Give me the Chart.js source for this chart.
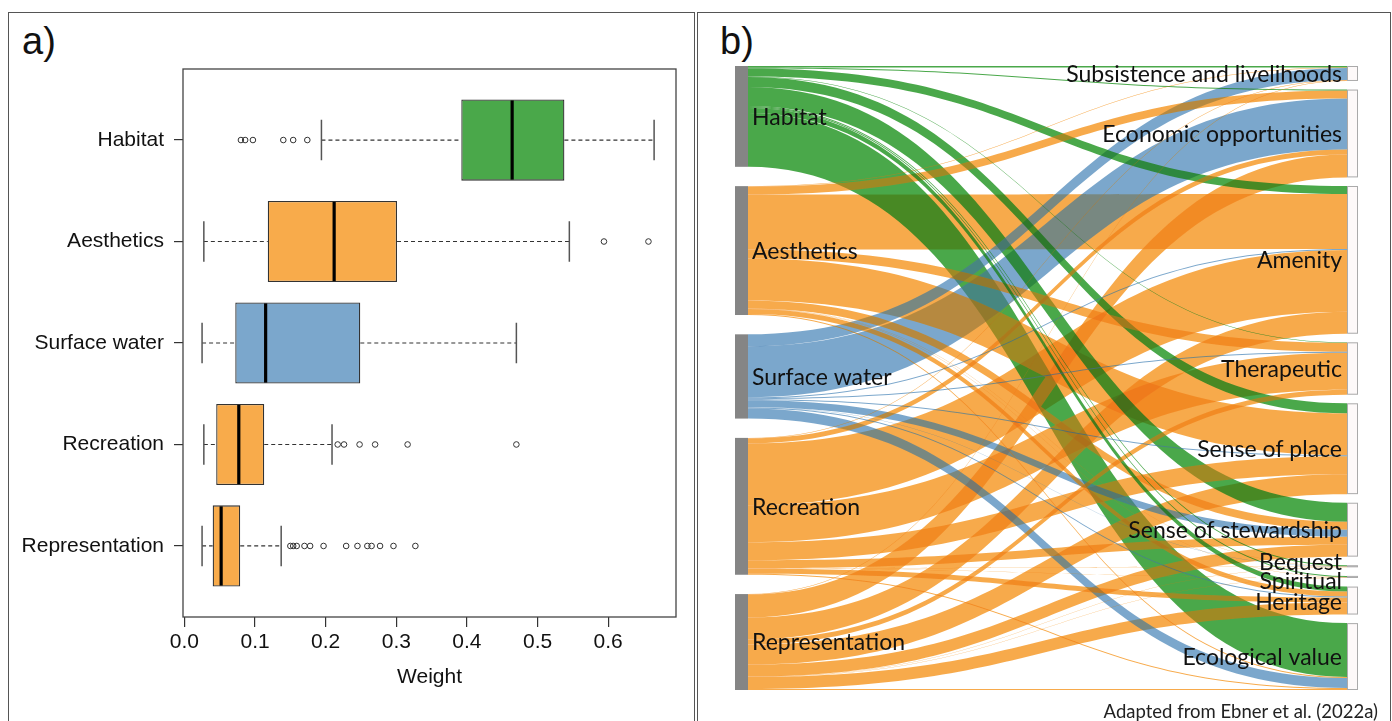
<!DOCTYPE html>
<html>
<head>
<meta charset="utf-8">
<script src="https://cdn.jsdelivr.net/npm/chart.js@4.4.1/dist/chart.umd.min.js"></script>
<style>
  body { margin: 0; background: #fff; width: 1392px; height: 721px; overflow: hidden; position: relative; }
  .panel { position: absolute; border: 1.5px solid #555; border-bottom: none; box-sizing: border-box; }
  #panelA { left: 8px; top: 12px; width: 687px; height: 712px; }
  #panelB { left: 697px; top: 12px; width: 694px; height: 712px; }
  .tag { position: absolute; font-family: "Liberation Sans", Arial, sans-serif; font-size: 38px; color: #111; line-height: 1; }
  #boxCanvas { position: absolute; left: 0; top: 0; }
  #sankeyCanvas { position: absolute; left: 698px; top: 13px; }
  #note { position: absolute; right: 14px; top: 700px; font-family: Lato, "Open Sans", sans-serif; font-size: 18.5px; color: #222; }
</style>
</head>
<body>
<div class="panel" id="panelA"></div>
<div class="panel" id="panelB"></div>
<div class="tag" style="left:22px; top:22px;">a)</div>
<div class="tag" style="left:720px; top:22px;">b)</div>
<canvas id="boxCanvas" width="694" height="721"></canvas>
<canvas id="sankeyCanvas" width="692" height="708"></canvas>
<div id="note">Adapted from Ebner et al. (2022a)</div>

<script>
// ---------- panel a: box plot of weights ----------
const boxCats = ['Habitat', 'Aesthetics', 'Surface water', 'Recreation', 'Representation'];
const boxColors = ['#4aa84a', '#f8ab4b', '#7ba7cc', '#f8ab4b', '#f8ab4b'];
const whiskerLow = [0.194, 0.0275, 0.025, 0.0275, 0.025];
const q1 = [0.392, 0.118, 0.072, 0.045, 0.040];
const median = [0.464, 0.212, 0.115, 0.077, 0.052];
const q3 = [0.538, 0.301, 0.249, 0.113, 0.079];
const whiskerHigh = [0.665, 0.545, 0.470, 0.209, 0.137];
const outliers = [
  [0.080, 0.086, 0.097, 0.140, 0.154, 0.174],
  [0.594, 0.657],
  [],
  [0.217, 0.226, 0.248, 0.270, 0.316, 0.470],
  [0.150, 0.154, 0.159, 0.170, 0.178, 0.197, 0.229, 0.245, 0.259, 0.265, 0.277, 0.296, 0.327]
];
const weightTicks = [0, 0.1, 0.2, 0.3, 0.4, 0.5, 0.6];

const axisFont = { family: '"Liberation Sans", Arial, sans-serif', size: 21 };

const boxExtras = {
  id: 'boxExtras',
  beforeDatasetsDraw(chart) {
    const { ctx, scales: { x, y } } = chart;
    const unit = Math.abs(y.getPixelForValue(2) - y.getPixelForValue(1));
    ctx.save();
    boxCats.forEach((c, i) => {
      const yc = y.getPixelForValue(i + 1);
      // dashed whiskers
      ctx.strokeStyle = '#333';
      ctx.lineWidth = 1.2;
      ctx.setLineDash([4, 3]);
      ctx.beginPath();
      ctx.moveTo(x.getPixelForValue(whiskerLow[i]), yc);
      ctx.lineTo(x.getPixelForValue(q1[i]), yc);
      ctx.moveTo(x.getPixelForValue(q3[i]), yc);
      ctx.lineTo(x.getPixelForValue(whiskerHigh[i]), yc);
      ctx.stroke();
      // staples
      ctx.setLineDash([]);
      ctx.strokeStyle = '#555';
      ctx.lineWidth = 1.5;
      ctx.beginPath();
      [whiskerLow[i], whiskerHigh[i]].forEach(v => {
        const px = x.getPixelForValue(v);
        ctx.moveTo(px, yc - unit * 0.2);
        ctx.lineTo(px, yc + unit * 0.2);
      });
      ctx.stroke();
    });
    ctx.restore();
  },
  afterDatasetsDraw(chart) {
    const { ctx, scales: { x, y }, chartArea } = chart;
    const unit = Math.abs(y.getPixelForValue(2) - y.getPixelForValue(1));
    ctx.save();
    ctx.strokeStyle = '#000';
    ctx.lineWidth = 3.2;
    boxCats.forEach((c, i) => {
      const yc = y.getPixelForValue(i + 1);
      const px = x.getPixelForValue(median[i]);
      ctx.beginPath();
      ctx.moveTo(px, yc - unit * 0.4 + 1);
      ctx.lineTo(px, yc + unit * 0.4 - 1);
      ctx.stroke();
    });
    ctx.strokeStyle = '#444';
    ctx.lineWidth = 1.3;
    ctx.strokeRect(chartArea.left, chartArea.top, chartArea.right - chartArea.left, chartArea.bottom - chartArea.top);
    ctx.restore();
  }
};

new Chart(document.getElementById('boxCanvas'), {
  type: 'bar',
  data: {
    datasets: [
      {
        type: 'bar',
        indexAxis: 'y',
        data: boxCats.map((c, i) => ({ x: [q1[i], q3[i]], y: i + 1 })),
        backgroundColor: boxColors,
        borderColor: '#333',
        borderWidth: 1.3,
        borderSkipped: false,
        categoryPercentage: 1,
        barPercentage: 0.8
      },
      {
        type: 'scatter',
        data: outliers.flatMap((arr, i) => arr.map(v => ({ x: v, y: i + 1 }))),
        pointStyle: 'circle',
        pointRadius: 2.8,
        pointBorderWidth: 1,
        pointBorderColor: '#333',
        pointBackgroundColor: 'rgba(0,0,0,0)',
        showLine: false
      }
    ]
  },
  options: {
    responsive: false,
    animation: false,
    layout: { padding: { left: 9, right: 18, top: 69, bottom: 0 } },
    plugins: { legend: { display: false }, tooltip: { enabled: false } },
    scales: {
      x: {
        type: 'linear',
        offset: false,
        min: -0.002,
        max: 0.696,
        afterBuildTicks: s => { s.ticks = weightTicks.map(v => ({ value: v })); },
        afterFit: s => { s.height = 104; },
        grid: { offset: false, drawOnChartArea: false, tickLength: 10, color: '#333', lineWidth: 1.2 },
        border: { display: false },
        ticks: { font: axisFont, color: '#111', padding: 3, callback: v => v.toFixed(1) },
        title: { display: true, text: 'Weight', font: axisFont, color: '#111', padding: { top: 0, bottom: 31 } }
      },
      y: {
        type: 'linear',
        offset: false,
        reverse: true,
        min: 0.3,
        max: 5.7,
        afterBuildTicks: s => { s.ticks = boxCats.map((c, i) => ({ value: i + 1 })); },
        afterFit: s => { s.width = 174; },
        grid: { offset: false, drawOnChartArea: false, tickLength: 9, color: '#333', lineWidth: 1.2 },
        border: { display: false },
        ticks: { font: axisFont, color: '#111', padding: 10, callback: v => boxCats[v - 1] }
      }
    }
  },
  plugins: [boxExtras]
});

// ---------- panel b: sankey of attributes to values ----------
const sources = ['Habitat', 'Aesthetics', 'Surface water', 'Recreation', 'Representation'];
const sourceRGB = [[42, 153, 42], [246, 155, 43], [100, 152, 195], [246, 155, 43], [246, 155, 43]];
const targets = ['Subsistence and livelihoods', 'Economic opportunities', 'Amenity', 'Therapeutic', 'Sense of place',
  'Sense of stewardship', 'Bequest', 'Spiritual', 'Heritage', 'Ecological value'];
// one row per source, one column per target
const flowHabitat        = [1.5, 1, 8, 0.5, 10, 19, 1, 1, 5, 54];
const flowAesthetics     = [0.5, 8, 55, 9, 42, 8, 0.3, 0.3, 5, 1];
const flowSurfaceWater   = [12, 51, 1, 1, 1, 7, 0.2, 0.2, 1, 10];
const flowRecreation     = [0.5, 5, 62, 37, 18, 8, 0.3, 0.3, 5, 1];
const flowRepresentation = [0.5, 23, 22, 5, 20, 12, 0.3, 0.3, 12, 1];
const flows = [flowHabitat, flowAesthetics, flowSurfaceWater, flowRecreation, flowRepresentation];

const NODE_PAD = 8.6;
const LINK_ALPHA = 0.85;
const LABEL_MIN_SEP = 21;
const sum = a => a.reduce((s, v) => s + v, 0);
const srcTotals = flows.map(sum);
const tgtTotals = targets.map((t, j) => sum(flows.map(r => r[j])));
const colHeight = Math.max(sum(srcTotals) + (sources.length - 1) * NODE_PAD,
                           sum(tgtTotals) + (targets.length - 1) * NODE_PAD);

function stackColumn(totals) {
  const gap = (colHeight - sum(totals)) / (totals.length - 1);
  let acc = 0;
  return totals.map(v => { const top = acc; acc += v + gap; return top; });
}
const srcTop = stackColumn(srcTotals);
const tgtTop = stackColumn(tgtTotals);

// link list with start offsets, drawn largest first
const links = [];
flows.forEach((row, i) => row.forEach((v, j) => {
  if (v > 0) links.push({ i, j, v,
    s0: srcTop[i] + sum(row.slice(0, j)),
    t0: tgtTop[j] + sum(flows.slice(0, i).map(r => r[j])) });
}));
links.sort((a, b) => b.v - a.v);

const labelFont = '23px Lato, "Open Sans", sans-serif';

const sankeyDraw = {
  id: 'sankeyDraw',
  afterDatasetsDraw(chart) {
    const { ctx, scales: { x, y }, chartArea } = chart;
    const leftW = 13, rightW = 11;
    const xl = x.getPixelForValue(0) + leftW;
    const xr = x.getPixelForValue(1) - rightW;
    const xm = (xl + xr) / 2;

    const tracePath = (c, l) => {
      const ys0 = y.getPixelForValue(l.s0), ys1 = y.getPixelForValue(l.s0 + l.v);
      const yt0 = y.getPixelForValue(l.t0), yt1 = y.getPixelForValue(l.t0 + l.v);
      c.beginPath();
      c.moveTo(xl, ys0);
      c.bezierCurveTo(xm, ys0, xm, yt0, xr, yt0);
      c.lineTo(xr, yt1);
      c.bezierCurveTo(xm, yt1, xm, ys1, xl, ys1);
      c.closePath();
    };

    // two passes: normal alpha blending and multiply, then mixed
    const w = chart.width, h = chart.height;
    const normal = document.createElement('canvas');
    normal.width = w; normal.height = h;
    const cn = normal.getContext('2d');
    const mult = document.createElement('canvas');
    mult.width = w; mult.height = h;
    const cm = mult.getContext('2d');
    cm.fillStyle = '#fff';
    cm.fillRect(0, 0, w, h);
    cm.globalCompositeOperation = 'multiply';
    links.forEach(l => {
      const [r, g, b] = sourceRGB[l.i];
      cn.fillStyle = `rgba(${r},${g},${b},${LINK_ALPHA})`;
      tracePath(cn, l);
      cn.fill();
      const vis = c => Math.round(LINK_ALPHA * c + (1 - LINK_ALPHA) * 255);
      cm.fillStyle = `rgb(${vis(r)},${vis(g)},${vis(b)})`;
      tracePath(cm, l);
      cm.fill();
    });
    ctx.save();
    ctx.drawImage(normal, 0, 0);
    ctx.beginPath();
    ctx.rect(chartArea.left, chartArea.top, chartArea.right - chartArea.left, chartArea.bottom - chartArea.top);
    ctx.clip();
    ctx.globalAlpha = 0.4;
    ctx.drawImage(mult, 0, 0);
    ctx.restore();

    ctx.save();
    // nodes
    ctx.fillStyle = '#858585';
    sources.forEach((s, i) => {
      const y0 = y.getPixelForValue(srcTop[i]), y1 = y.getPixelForValue(srcTop[i] + srcTotals[i]);
      ctx.fillRect(xl - leftW, y0, leftW, y1 - y0);
    });
    ctx.strokeStyle = '#aaa';
    ctx.lineWidth = 1;
    targets.forEach((t, j) => {
      const y0 = y.getPixelForValue(tgtTop[j]), y1 = y.getPixelForValue(tgtTop[j] + tgtTotals[j]);
      ctx.fillStyle = '#fdf9f9';
      ctx.fillRect(xr, y0, rightW, y1 - y0);
      ctx.strokeRect(xr + 0.5, y0 + 0.5, rightW - 1, Math.max(y1 - y0 - 1, 0.5));
    });
    // labels
    ctx.font = labelFont;
    ctx.fillStyle = '#111';
    ctx.textBaseline = 'middle';
    ctx.textAlign = 'left';
    sources.forEach((s, i) => {
      ctx.fillText(s, xl + 4, y.getPixelForValue(srcTop[i] + srcTotals[i] / 2) + 1);
    });
    // right labels: push apart the ones that would collide (tiny nodes)
    const ly = targets.map((t, j) => y.getPixelForValue(tgtTop[j] + tgtTotals[j] / 2) + 1);
    for (let j = 1; j < ly.length; j++) {
      const d = ly[j] - ly[j - 1];
      if (d < LABEL_MIN_SEP) {
        ly[j - 1] -= (LABEL_MIN_SEP - d) / 2;
        ly[j] += (LABEL_MIN_SEP - d) / 2;
      }
    }
    ctx.textAlign = 'right';
    targets.forEach((t, j) => ctx.fillText(t, xr - 5, ly[j]));
    ctx.restore();
  }
};

new Chart(document.getElementById('sankeyCanvas'), {
  type: 'scatter',
  data: { datasets: [] },
  options: {
    responsive: false,
    animation: false,
    layout: { padding: { left: 37, right: 32, top: 53, bottom: 31 } },
    plugins: { legend: { display: false }, tooltip: { enabled: false } },
    scales: {
      x: { type: 'linear', min: 0, max: 1, display: false },
      y: { type: 'linear', min: 0, max: colHeight, reverse: true, display: false }
    }
  },
  plugins: [sankeyDraw]
});
</script>
</body>
</html>
